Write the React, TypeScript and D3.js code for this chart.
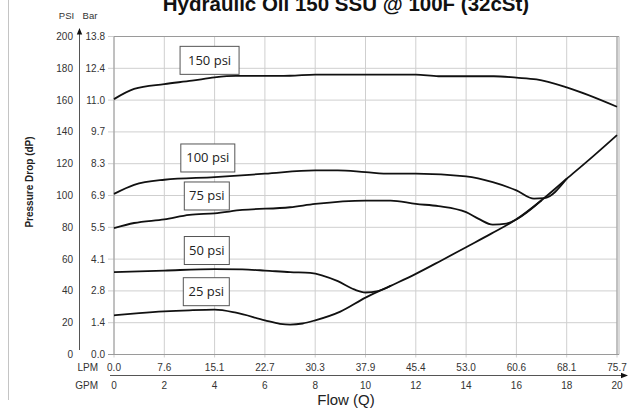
import React from "react";
import * as d3 from "d3";

// ---------- data ----------
const GPM_TICKS = [0, 2, 4, 6, 8, 10, 12, 14, 16, 18, 20];
const LPM_LABELS = ["0.0", "7.6", "15.1", "22.7", "30.3", "37.9", "45.4", "53.0", "60.6", "68.1", "75.7"];
const PSI_TICKS = [0, 20, 40, 60, 80, 100, 120, 140, 160, 180, 200];
const BAR_LABELS = ["0.0", "1.4", "2.8", "4.1", "5.5", "6.9", "8.3", "9.7", "11.0", "12.4", "13.8"];

// [GPM, PSI]
const CURVE_150: [number, number][] = [
  [0, 160.6], [0.8, 167], [2, 170.1], [3.1, 172.2], [4, 174.3], [4.85, 175.2], [6, 175.2], [7, 175.3],
  [8, 176], [10, 176], [12, 176], [12.9, 175], [14, 175], [15.1, 175], [16, 174.1], [16.8, 173],
  [18, 168], [20, 155.8],
];
const CURVE_100: [number, number][] = [
  [0, 101], [0.8, 106.7], [2, 109.9], [4, 111.6], [6, 113.7], [8, 115.8], [8.9, 115.8], [10, 114.7],
  [11, 113.7], [12, 113.7], [14, 112], [15.06, 108.4], [16, 103.2], [16.7, 98], [17.1, 98.3], [18, 110.5],
];
const CURVE_75: [number, number][] = [
  [0, 79.5], [0.8, 82.7], [2, 85], [3, 87.8], [4, 88.8], [5.1, 90.9], [7, 92.6], [8, 94.7], [10, 96.8],
  [11, 96.8], [12, 94.7], [12.9, 93.3], [14, 89.5], [14.5, 85.3], [15.06, 81.7], [15.6, 82.3], [16, 85], [17, 97],
];
const CURVE_50: [number, number][] = [
  [0, 51.8], [2, 52.8], [4, 53.7], [5.1, 53.5], [6, 52.8], [7, 51.8], [7.8, 51.4], [8.9, 46.1],
  [9.55, 40.9], [10, 39.0], [10.5, 39.9], [11, 43.2],
];
const CURVE_25: [number, number][] = [
  [0, 24.6], [1, 26], [2, 27.1], [3, 27.8], [4, 28.2], [4.85, 26.3], [6, 21.5], [6.6, 19.3], [7, 18.8],
  [7.5, 19.5], [8, 21.5], [9, 27], [10, 35.8], [11, 43.2], [12, 50.7], [13, 59], [14, 67.5], [15, 76],
  [16, 85], [17, 97], [18, 110.5], [19, 124], [20, 138],
];
const CURVES = [CURVE_150, CURVE_100, CURVE_75, CURVE_50, CURVE_25];

const LABEL_TEXTS = ["150 psi", "100 psi", "75 psi", "50 psi", "25 psi"];
const LABEL_GPM = [3.8, 3.73, 3.69, 3.69, 3.67];
const LABEL_PSI = [185, 123.6, 99.7, 65.4, 39.5];
const LABEL_W = [59, 54, 45, 45, 46];

// ---------- layout ----------
const W = 631;
const H = 408;
const X0 = 114;
const X1 = 617;
const Y0 = 354.5;
const Y1 = 36.5;
const FONT = "'Liberation Sans', Arial, sans-serif";

export default function App() {
  const x = d3.scaleLinear().domain([0, 20]).range([X0, X1]);
  const y = d3.scaleLinear().domain([0, 200]).range([Y0, Y1]);
  const line = d3
    .line<[number, number]>()
    .x((d) => x(d[0]))
    .y((d) => y(d[1]))
    .curve(d3.curveMonotoneX);

  return (
    <svg
      width={W}
      height={H}
      style={{ position: "absolute", left: 0, top: 0, background: "#fff" }}
      fontFamily={FONT}
    >
      <rect x={0} y={0} width={W} height={H} fill="#fff" />
      {/* page frame line */}
      <line x1={8.5} x2={8.5} y1={0} y2={400} stroke="#c4c4c4" strokeWidth={1} />

      {/* title */}
      <text x={346} y={10.5} textAnchor="middle" fontSize={20.5} fontWeight="bold" fill="#111">
        Hydraulic Oil 150 SSU @ 100F (32cSt)
      </text>

      {/* grid */}
      {GPM_TICKS.map((g) => (
        <line key={"gx" + g} x1={x(g)} x2={x(g)} y1={Y1} y2={Y0 + 3} stroke="#cfcfcf" strokeWidth={1} />
      ))}
      {PSI_TICKS.map((p) => (
        <line key={"gy" + p} x1={X0 - 6} x2={X1} y1={y(p)} y2={y(p)} stroke="#cfcfcf" strokeWidth={1} />
      ))}
      {/* plot border */}
      <line x1={X0} x2={X0} y1={Y1} y2={Y0} stroke="#9a9a9a" strokeWidth={1} />
      <line x1={X0} x2={X1 + 2} y1={Y1} y2={Y1} stroke="#9a9a9a" strokeWidth={1} />
      <line x1={X1} x2={X1} y1={Y1} y2={Y0} stroke="#9a9a9a" strokeWidth={1} />
      <line x1={X1 + 2} x2={X1 + 2} y1={Y1} y2={Y0} stroke="#b5b5b5" strokeWidth={1} />
      <line x1={X0 - 6} x2={X1 + 2} y1={Y0} y2={Y0} stroke="#9a9a9a" strokeWidth={1} />

      {/* curves */}
      {CURVES.map((c, i) => (
        <path key={"c" + i} d={line(c) || ""} fill="none" stroke="#111" strokeWidth={1.8} strokeLinejoin="round" />
      ))}

      {/* label boxes */}
      {LABEL_TEXTS.map((t, i) => {
        const cx = x(LABEL_GPM[i]);
        const cy = y(LABEL_PSI[i]);
        const w = LABEL_W[i];
        const h = 28;
        return (
          <g key={"l" + i}>
            <rect x={cx - w / 2} y={cy - h / 2} width={w} height={h} fill="#fff" stroke="#555" strokeWidth={1} />
            <text x={cx} y={cy + 4.5} textAnchor="middle" fontSize={13} fill="#222" fontFamily="'Open Sans', 'Liberation Sans', sans-serif">
              {t}
            </text>
          </g>
        );
      })}

      {/* y axis header */}
      <text x={66.5} y={18.5} textAnchor="middle" fontSize={9.5} fill="#333">PSI</text>
      <text x={90} y={18.5} textAnchor="middle" fontSize={9.5} fill="#333">Bar</text>
      {/* y axis arrow */}
      <line x1={79.5} x2={79.5} y1={33} y2={350} stroke="#555" strokeWidth={1} />
      <path d="M79.5,28 L76.8,34.5 L82.2,34.5 Z" fill="#111" />
      {PSI_TICKS.map((p) => (
        <text key={"psi" + p} x={73} y={y(p) + 3.5} textAnchor="end" fontSize={10} fill="#333">
          {p}
        </text>
      ))}
      {BAR_LABELS.map((b, i) => (
        <text key={"bar" + i} x={105} y={y(PSI_TICKS[i]) + 3.5} textAnchor="end" fontSize={10} fill="#333">
          {b}
        </text>
      ))}
      <text
        transform={`translate(33,182) rotate(-90)`}
        textAnchor="middle"
        fontSize={10}
        fontWeight="bold"
        fill="#222"
      >
        Pressure Drop (dP)
      </text>

      {/* x axis */}
      <text x={98} y={371} textAnchor="end" fontSize={10} fill="#333">LPM</text>
      <text x={98} y={389} textAnchor="end" fontSize={10} fill="#333">GPM</text>
      {LPM_LABELS.map((l, i) => (
        <text key={"lpm" + i} x={x(GPM_TICKS[i])} y={371} textAnchor="middle" fontSize={10} fill="#333">
          {l}
        </text>
      ))}
      <line x1={110} x2={623} y1={375.5} y2={375.5} stroke="#555" strokeWidth={1} />
      <path d="M628,375.5 L621,372.8 L621,378.2 Z" fill="#111" />
      {GPM_TICKS.map((g) => (
        <text key={"gpm" + g} x={x(g)} y={389} textAnchor="middle" fontSize={10} fill="#333">
          {g}
        </text>
      ))}
      <text x={346} y={405} textAnchor="middle" fontSize={15} fill="#222">
        Flow (Q)
      </text>
    </svg>
  );
}
